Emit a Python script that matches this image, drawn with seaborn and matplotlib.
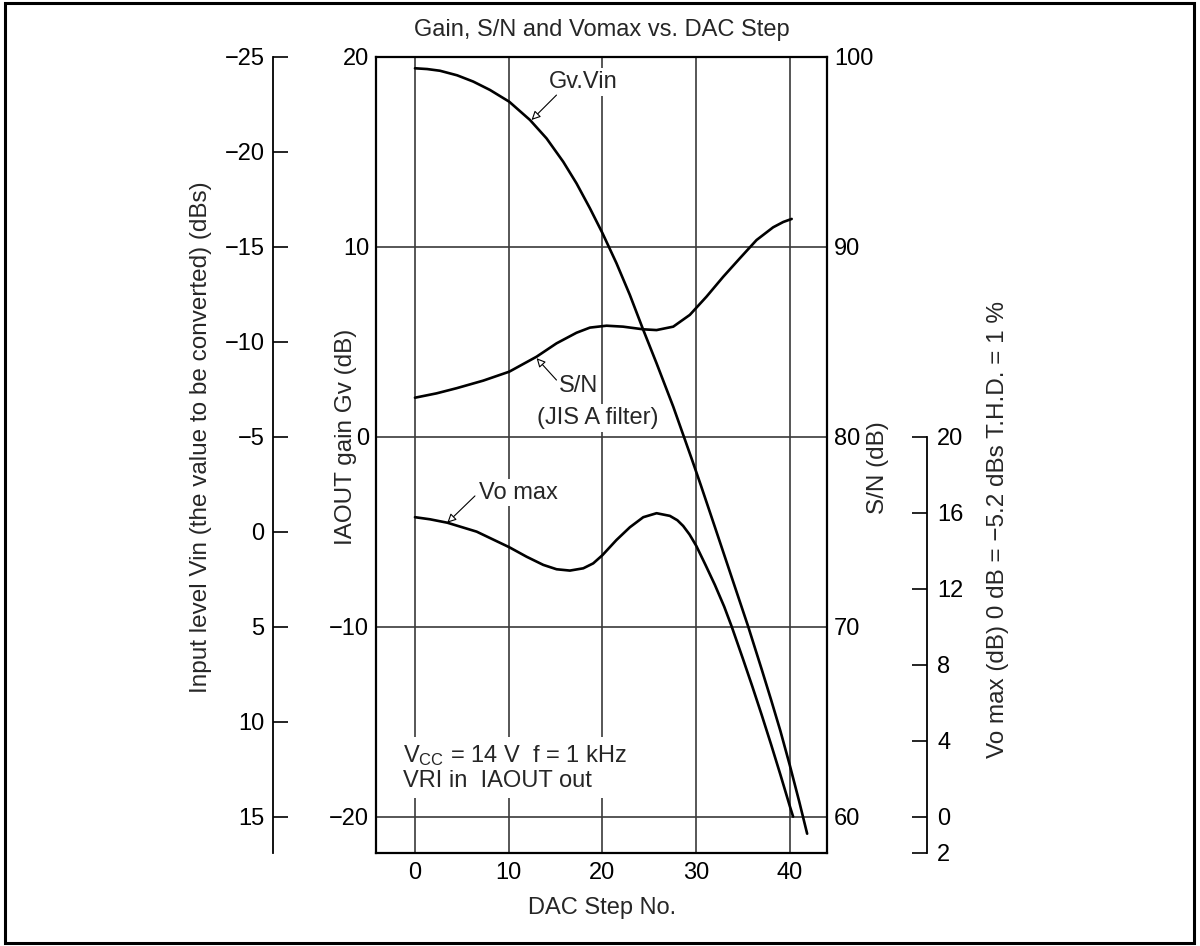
import matplotlib
matplotlib.use("Agg")
import matplotlib.pyplot as plt
import seaborn as sns
import pandas as pd
from matplotlib.patches import Rectangle

# ---------------- data ----------------
gv_steps = [0, 1.3, 2.67, 4.5, 6.22, 8, 10.06, 12.27, 14.04, 15.82, 17.24, 18.67, 20.02, 21.5,
            22.93, 24.36, 25.78, 27.56, 29.51, 30.5, 32, 34, 35.56, 37, 38, 39, 40, 41, 41.85]
gv_vals = [19.39, 19.35, 19.26, 19.02, 18.69, 18.25, 17.63, 16.67, 15.70, 14.47, 13.33, 12.02,
           10.70, 9.13, 7.46, 5.62, 3.86, 1.58, -1.14, -2.55, -4.75, -7.7, -10.0, -12.25, -13.85,
           -15.5, -17.3, -19.2, -20.9]

sn_steps = [0, 2.31, 4.44, 7.29, 10.06, 12.98, 15.1, 17.24, 18.67, 20.44, 22.2, 24.36, 25.78,
            27.56, 29.33, 31.11, 32.9, 34.67, 36.45, 38.22, 39.3, 40.2]
sn_vals = [82.05, 82.28, 82.55, 82.95, 83.42, 84.21, 84.91, 85.47, 85.74, 85.84, 85.79, 85.65,
           85.61, 85.79, 86.41, 87.37, 88.42, 89.39, 90.35, 91.02, 91.3, 91.46]

vo_steps = [0, 1.6, 3.45, 6.58, 10.06, 11.91, 13.69, 15.11, 16.53, 17.96, 19.02, 20.02, 21.5,
            22.93, 24.36, 25.78, 27.2, 28.0, 28.62, 29.3, 30.02, 31, 32, 33, 33.8, 35, 36, 37,
            38, 39, 40, 40.35]
vo_vals = [15.76, 15.65, 15.47, 15.0, 14.18, 13.68, 13.25, 13.02, 12.95, 13.07, 13.33, 13.77,
           14.56, 15.23, 15.76, 15.97, 15.83, 15.6, 15.30, 14.85, 14.25, 13.25, 12.2, 11.05,
           10.0, 8.3, 6.85, 5.35, 3.8, 2.2, 0.55, 0.0]

x_ticks = [0, 10, 20, 30, 40]
gv_ticks = [-20, -10, 0, 10, 20]
sn_ticks = [60, 70, 80, 90, 100]
vin_ticks = [-25, -20, -15, -10, -5, 0, 5, 10, 15]
vo_ticks = [-1.9, 0, 4, 8, 12, 16, 20]
vo_tick_labels = ["2", "0", "4", "8", "12", "16", "20"]

title = "Gain, S/N and Vomax vs. DAC Step"
xlabel = "DAC Step No."
gv_label = "IAOUT gain Gv (dB)"
sn_label = "S/N (dB)"
vin_label = "Input level Vin (the value to be converted) (dBs)"
vo_label = "Vo max (dB) 0 dB = \u22125.2 dBs T.H.D. = 1 %"

# ---------------- style ----------------
sns.set_theme(style="white")
plt.rcParams["font.family"] = ["Liberation Sans", "DejaVu Sans"]
plt.rcParams["mathtext.fontset"] = "custom"
plt.rcParams["mathtext.rm"] = "Liberation Sans"
plt.rcParams["mathtext.it"] = "Liberation Sans"
plt.rcParams["axes.unicode_minus"] = True
FS = 17
LFS = 17.5

W, H = 1200, 946
fig = plt.figure(figsize=(W / 100, H / 100), dpi=100)
fig.patch.set_facecolor("white")

L, R, T, B = 376, 827.3, 56.7, 852.7
ax = fig.add_axes([L / W, 1 - B / H, (R - L) / W, (B - T) / H])

XLIM = (-4.16, 44.0)
GV_LIM = (-21.9, 20.0)
LW = 1.9

# main (Gv) axis
df_gv = pd.DataFrame({"step": gv_steps, "val": gv_vals})
sns.lineplot(data=df_gv, x="step", y="val", ax=ax, color="black", lw=LW, sort=False)
ax.set_xlim(*XLIM)
ax.set_ylim(*GV_LIM)
ax.set_xticks(x_ticks)
ax.set_yticks(gv_ticks)
ax.set_xticklabels([str(t) for t in x_ticks])
ax.set_yticklabels([str(t).replace("-", "\u2212") for t in gv_ticks])
ax.tick_params(axis="both", length=0, labelsize=FS, colors="black")
ax.tick_params(axis="x", pad=7)
ax.tick_params(axis="y", pad=5)
ax.grid(True, color="#3a3a3a", lw=1.2)
ax.set_axisbelow(True)
for s in ax.spines.values():
    s.set_color("black")
    s.set_linewidth(1.6)
ax.set_xlabel("")
ax.set_ylabel("")

# S/N axis (right spine)
ax_sn = ax.twinx()
df_sn = pd.DataFrame({"step": sn_steps, "val": sn_vals})
sns.lineplot(data=df_sn, x="step", y="val", ax=ax_sn, color="black", lw=LW, sort=False)
ax_sn.set_xlim(*XLIM)
ax_sn.set_ylim(GV_LIM[0] + 80, GV_LIM[1] + 80)
ax_sn.set_yticks(sn_ticks)
ax_sn.set_yticklabels([str(t) for t in sn_ticks])
ax_sn.tick_params(axis="y", length=0, labelsize=FS, pad=5, colors="black")
ax_sn.set_ylabel("")
ax_sn.grid(False)
for s in ax_sn.spines.values():
    s.set_visible(False)

# Vo max axis (offset right spine)
ax_vo = ax.twinx()
df_vo = pd.DataFrame({"step": vo_steps, "val": vo_vals})
sns.lineplot(data=df_vo, x="step", y="val", ax=ax_vo, color="black", lw=LW, sort=False)
ax_vo.set_xlim(*XLIM)
ax_vo.set_ylim(GV_LIM[0] + 20, GV_LIM[1] + 20)
ax_vo.grid(False)
for k, s in ax_vo.spines.items():
    s.set_visible(k == "right")
ax_vo.spines["right"].set_position(("axes", (927.3 - L) / (R - L)))
ax_vo.spines["right"].set_bounds(GV_LIM[0] + 20, 20)
ax_vo.spines["right"].set_linewidth(1.3)
ax_vo.spines["right"].set_color("black")
ax_vo.set_yticks(vo_ticks)
ax_vo.set_yticklabels(vo_tick_labels)
ax_vo.tick_params(axis="y", direction="in", length=11, width=1.2, labelsize=FS, pad=7, colors="black")
ax_vo.set_ylabel("")

# Vin axis (offset left spine, inverted)
ax_vin = ax.twinx()
ax_vin.set_xlim(*XLIM)
ax_vin.set_ylim(-GV_LIM[0] - 5, -GV_LIM[1] - 5)
ax_vin.grid(False)
ax_vin.yaxis.set_ticks_position("left")
ax_vin.yaxis.set_label_position("left")
for k, s in ax_vin.spines.items():
    s.set_visible(k == "left")
ax_vin.spines["left"].set_position(("axes", (272.7 - L) / (R - L)))
ax_vin.spines["left"].set_linewidth(1.3)
ax_vin.spines["left"].set_color("black")
ax_vin.set_yticks(vin_ticks)
ax_vin.set_yticklabels([str(t).replace("-", "\u2212") for t in vin_ticks])
ax_vin.tick_params(axis="y", direction="in", length=11, width=1.2, labelsize=FS, pad=6, colors="black")

# ---------------- axis titles ----------------
def fx(px):
    return px / W

def fy(py):
    return 1 - py / H

fig.text(fx(602), fy(30), title, ha="center", va="center", fontsize=FS)
fig.text(fx(602), fy(908), xlabel, ha="center", va="center", fontsize=FS)
fig.text(fx(346), fy(437), gv_label, rotation=90, ha="center", va="center", fontsize=LFS)
fig.text(fx(201), fy(437), vin_label, rotation=90, ha="center", va="center", fontsize=LFS)
fig.text(fx(878), fy(468), sn_label, rotation=90, ha="center", va="center", fontsize=LFS)
fig.text(fx(998), fy(530), vo_label, rotation=90, ha="center", va="center", fontsize=LFS)

# ---------------- annotations ----------------
box = dict(facecolor="white", edgecolor="none", pad=2)
arrow = dict(arrowstyle="-|>", color="black", lw=0.8, fc="white", mutation_scale=13,
             shrinkA=0, shrinkB=0)

ax.text(17.92, 18.67, "Gv.Vin", ha="center", va="center", fontsize=FS, bbox=box, zorder=5)
ax.annotate("", xy=(12.44, 16.67), xytext=(15.1, 17.98), arrowprops=arrow, zorder=6)

ax.text(17.49, 2.67, "S/N", ha="center", va="center", fontsize=FS, bbox=box, zorder=5)
ax.text(19.47, 0.98, "(JIS A filter)", ha="center", va="center", fontsize=FS, bbox=box, zorder=5)
ax.annotate("", xy=(12.98, 4.13), xytext=(15.1, 2.98), arrowprops=arrow, zorder=6)

ax.text(11.09, -2.94, "Vo max", ha="center", va="center", fontsize=FS, bbox=box, zorder=5)
ax.annotate("", xy=(3.45, -4.53), xytext=(6.4, -3.12), arrowprops=arrow, zorder=6)

ax.text(-1.31, -17.43, "V$_{\\mathregular{CC}}$ = 14 V  f = 1 kHz\nVRI in  IAOUT out",
        ha="left", va="center", fontsize=FS, linespacing=1.1,
        bbox=dict(facecolor="white", edgecolor="none", pad=4), zorder=5)

# ---------------- outer frame ----------------
fig.patches.append(Rectangle((fx(5), fy(943)), (1194 - 5) / W, (943 - 3) / H,
                             transform=fig.transFigure, fill=False, edgecolor="black",
                             lw=2.2, zorder=10))

fig.savefig("out.png", dpi=100, facecolor="white")
